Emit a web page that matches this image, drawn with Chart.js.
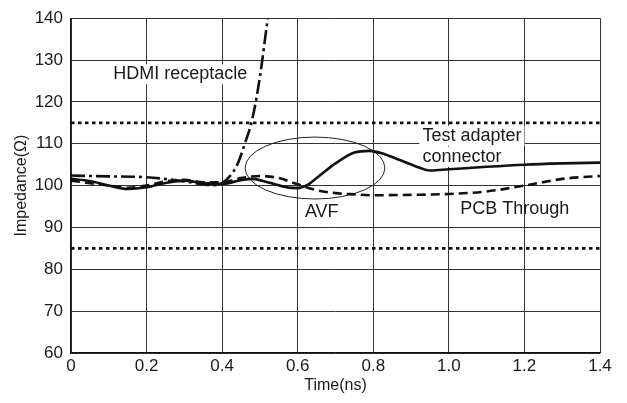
<!DOCTYPE html>
<html><head><meta charset="utf-8">
<script src="https://cdn.jsdelivr.net/npm/chart.js@4/dist/chart.umd.min.js"></script>
<style>html,body{margin:0;padding:0;background:#fff}#wrap{width:627px;height:403px}</style>
</head><body><div id="wrap"><canvas id="c" width="627" height="403"></canvas></div>
<script>
// Test adapter connector (solid)
const solidX = [0,0.05,0.1,0.15,0.2,0.25,0.3,0.35,0.4,0.45,0.48,0.52,0.57,0.6,0.625,0.65,0.7,0.75,0.79,0.83,0.87,0.91,0.95,1.0,1.1,1.2,1.3,1.4];
const solidY = [101.6,101.1,100.0,99.2,99.6,100.6,101.2,100.6,100.4,101.3,101.6,100.8,99.6,99.4,100.1,101.8,105.3,107.9,108.3,107.5,106.1,104.7,103.6,103.9,104.5,105.0,105.3,105.5];
// PCB Through (dashed)
const pcbX = [0,0.05,0.1,0.15,0.2,0.25,0.3,0.35,0.4,0.45,0.5,0.55,0.6,0.65,0.7,0.75,0.8,0.9,1.0,1.1,1.2,1.3,1.4];
const pcbY = [101.2,100.6,100.0,99.5,100.0,101.0,101.4,100.8,100.8,101.8,102.3,101.8,100.3,98.9,98.2,97.9,97.7,97.8,98.0,98.6,100.0,101.6,102.3];
// HDMI receptacle (dash-dot)
const hdmiX = [0,0.1,0.2,0.3,0.35,0.38,0.4,0.42,0.44,0.46,0.48,0.5,0.52,0.53];
const hdmiY = [102.4,102.2,102.0,101.0,100.3,100.1,100.6,102.2,105.0,110.0,116.0,126.0,139.5,146.0];
// Limit lines (dotted)
const limitX = [0,1.4];
const upperLimit = [115,115];
const lowerLimit = [85,85];
// Ticks
const xTicks = [0,0.2,0.4,0.6,0.8,1.0,1.2,1.4];
const yTicks = [60,70,80,90,100,110,120,130,140];

const pts = (xs, ys) => xs.map((x,i)=>({x:x,y:ys[i]}));
const FONT = 'Liberation Sans, Arial, Helvetica, sans-serif';
const TXT = '#1a1a1a';

const annot = {
  id:'annot',
  beforeDatasetsDraw(chart){
    const {ctx, scales:{x,y}} = chart;
    ctx.save();
    ctx.font = '18px ' + FONT;
    ctx.textBaseline = 'middle';
    const labels = [
      {t:'HDMI receptacle', x:0.112, y:126.6, bg:true},
      {t:'Test adapter', x:0.93, y:111.9, bg:true},
      {t:'connector', x:0.93, y:106.9, bg:true},
      {t:'AVF', x:0.619, y:93.7, bg:true},
      {t:'PCB Through', x:1.03, y:94.5, bg:false}
    ];
    labels.forEach(l=>{
      const px = x.getPixelForValue(l.x), py = y.getPixelForValue(l.y);
      const w = ctx.measureText(l.t).width;
      if(l.bg){ ctx.fillStyle='#fff'; ctx.fillRect(px-3, py-10, w+6, 20); }
    });
    labels.forEach(l=>{
      const px = x.getPixelForValue(l.x), py = y.getPixelForValue(l.y);
      ctx.fillStyle = TXT;
      ctx.fillText(l.t, px, py);
    });
    // ellipse
    const cx = x.getPixelForValue(0.6457), cy = y.getPixelForValue(104.2);
    const rx = Math.abs(x.getPixelForValue(0.6457+0.185)-cx);
    const ry = Math.abs(y.getPixelForValue(104.2+7.4)-cy);
    ctx.beginPath();
    ctx.ellipse(cx, cy, rx, ry, 0, 0, Math.PI*2);
    ctx.lineWidth = 1;
    ctx.strokeStyle = '#222';
    ctx.stroke();
    ctx.restore();
  }
};

new Chart(document.getElementById('c'), {
  type:'line',
  data:{ datasets:[
    {label:'Upper', data:pts(limitX, upperLimit), borderColor:'#111', borderWidth:2.6, borderDash:[3.5,3.5], pointRadius:0, tension:0},
    {label:'Lower', data:pts(limitX, lowerLimit), borderColor:'#111', borderWidth:2.6, borderDash:[3.5,3.5], pointRadius:0, tension:0},
    {label:'PCB Through', data:pts(pcbX, pcbY), borderColor:'#111', borderWidth:2.6, borderDash:[9,5], pointRadius:0, cubicInterpolationMode:'monotone'},
    {label:'HDMI receptacle', data:pts(hdmiX, hdmiY), borderColor:'#111', borderWidth:2.6, borderDash:[14,4,3,4], pointRadius:0, cubicInterpolationMode:'monotone'},
    {label:'Test adapter connector', data:pts(solidX, solidY), borderColor:'#111', borderWidth:2.6, pointRadius:0, cubicInterpolationMode:'monotone'}
  ]},
  options:{
    responsive:false, animation:false, devicePixelRatio:1,
    layout:{padding:{top:14, right:27, left:0, bottom:0}},
    plugins:{legend:{display:false}, tooltip:{enabled:false}},
    scales:{
      x:{type:'linear', min:0, max:1.4,
        afterBuildTicks(s){ s.ticks = xTicks.map(v=>({value:v})); },
        afterFit(s){ s.height = 50; },
        grid:{color:'#333', lineWidth:1, drawTicks:false},
        border:{color:'#111', width:1.2},
        ticks:{padding:3, color:TXT, font:{family:FONT, size:17}, maxRotation:0,
          callback:(v)=> v===0 ? '0' : Number(v).toFixed(1)},
        title:{display:true, text:'Time(ns)', color:TXT, font:{family:FONT, size:16}, padding:{top:0,bottom:8}}
      },
      y:{type:'linear', min:60, max:140,
        afterBuildTicks(s){ s.ticks = yTicks.map(v=>({value:v})); },
        afterFit(s){ s.width = 71; },
        grid:{color:'#333', lineWidth:1, drawTicks:false},
        border:{color:'#111', width:1.2},
        ticks:{padding:8, color:TXT, font:{family:FONT, size:17}},
        title:{display:true, text:'Impedance(Ω)', color:TXT, font:{family:FONT, size:16}, padding:{top:12,bottom:0}}
      }
    }
  },
  plugins:[annot]
});
</script></body></html>
